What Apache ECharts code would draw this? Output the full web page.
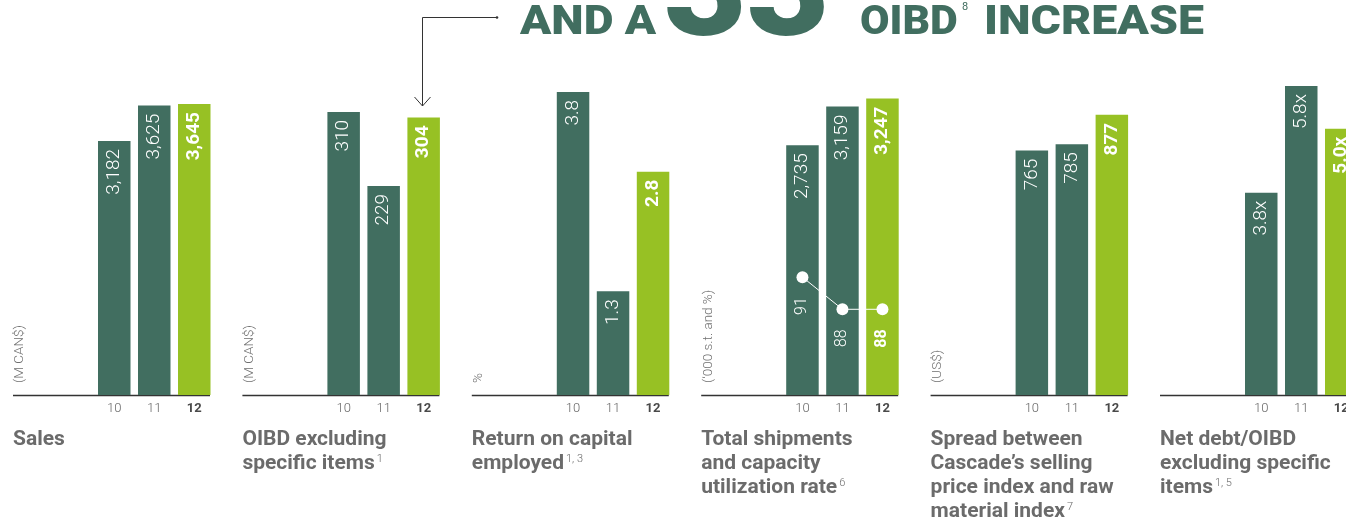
<!DOCTYPE html>
<html>
<head>
<meta charset="utf-8">
<script src="https://cdn.jsdelivr.net/npm/echarts@6/dist/echarts.min.js"></script>
<style>
  html, body { margin: 0; padding: 0; background: #ffffff; overflow: hidden; }
  /* the drawing surface runs a little past the visible window so the last panel can be cut at the edge */
  #chart { width: 1400px; height: 519px; }
</style>
</head>
<body>
<div id="chart"></div>
<script>
// Year labels shared by every panel
const years = ['10', '11', '12'];

// Key figures, one array per indicator
const sales = [3182, 3625, 3645];           // M CAN$
const oibd = [310, 229, 304];               // M CAN$
const roce = [3.8, 1.3, 2.8];               // %
const shipments = [2735, 3159, 3247];       // '000 s.t.
const utilization = [91, 88, 88];          // %
const spread = [765, 785, 877];             // US$
const netDebtRatio = [3.8, 5.8, 5.0];       // times

// Panel captions, units and footnote marks
const titles = [
  ['Sales'],
  ['OIBD excluding', 'specific items'],
  ['Return on capital', 'employed'],
  ['Total shipments', 'and capacity', 'utilization rate'],
  ['Spread between', 'Cascade\u2019s selling', 'price index and raw', 'material index'],
  ['Net debt/OIBD', 'excluding specific', 'items']
];
const notes = ['', '1', '1, 3', '6', '7', '1, 5'];
const units = ['(M CAN$)', '(M CAN$)', '%', '(\u2018000 s.t. and %)', '(US$)', ''];

const GREEN = '#416e60';
const LIME = '#97c124';
const FONT = 'Roboto, "Noto Sans", sans-serif';

const fmtInt = v => v.toLocaleString('en-US');
const fmtDec = v => v.toFixed(1);

// Series settings per panel (scale ceiling keeps bar heights comparable across the layout)
const panels = [
  { values: sales, fmt: fmtInt, max: 3946 },
  { values: oibd, fmt: fmtInt, max: 345 },
  { values: roce, fmt: fmtDec, max: 3.95 },
  { values: shipments, fmt: fmtInt, max: 3450, line: utilization },
  { values: spread, fmt: fmtInt, max: 986 },
  { values: netDebtRatio, fmt: v => v.toFixed(1) + 'x', max: 5.915 }
];

const PANEL_X0 = 13, PANEL_STEP = 229.4, BASE_Y = 395, PLOT_TOP = 80;

const grid = [], xAxis = [], yAxis = [], series = [], graphic = [];

panels.forEach((p, i) => {
  const px = PANEL_X0 + PANEL_STEP * i;
  grid.push({ left: px + 81.25, width: 120, top: PLOT_TOP, height: BASE_Y - PLOT_TOP });
  xAxis.push({
    type: 'category', gridIndex: i, data: years,
    axisLine: { show: false }, axisTick: { show: false }, splitLine: { show: false },
    axisLabel: {
      interval: 0, hideOverlap: false,
      margin: 7, fontFamily: FONT, fontSize: 13, fontWeight: 300, color: '#666',
      formatter: v => v === '12' ? '{b|' + v + '}' : v,
      rich: { b: { fontFamily: FONT, fontSize: 13, fontWeight: 'bold', color: '#4a4a4a' } }
    }
  });
  const barAxis = yAxis.length;
  yAxis.push({ type: 'value', gridIndex: i, min: 0, max: p.max, show: false });

  series.push({
    type: 'bar', xAxisIndex: i, yAxisIndex: barAxis, barWidth: 32.5,
    data: p.values.map((v, j) => ({
      value: v,
      itemStyle: { color: j === 2 ? LIME : GREEN },
      label: { fontWeight: j === 2 ? 'bold' : 300 }
    })),
    label: {
      show: true, position: 'insideTop', distance: 8, rotate: 90,
      align: 'right', verticalAlign: 'middle',
      color: '#ffffff', fontFamily: FONT, fontSize: 19,
      formatter: params => p.fmt(params.value)
    },
    emphasis: { disabled: true },
    animation: false
  });

  if (p.line) {
    const lineAxis = yAxis.length;
    yAxis.push({ type: 'value', gridIndex: i, min: 80, max: 109.4, show: false });
    series.push({
      type: 'line', xAxisIndex: i, yAxisIndex: lineAxis, z: 5,
      data: p.line.map((v, j) => ({ value: v, label: { fontWeight: j === 2 ? 'bold' : 300 } })),
      symbol: 'circle', symbolSize: 12,
      lineStyle: { color: '#ffffff', width: 1 },
      itemStyle: { color: '#ffffff' },
      label: {
        show: true, position: 'bottom', distance: 14, rotate: 90,
        align: 'right', verticalAlign: 'middle',
        color: '#ffffff', fontFamily: FONT, fontSize: 16
      },
      emphasis: { disabled: true },
      animation: false
    });
  }

  // baseline under the bars
  graphic.push({
    type: 'line', silent: true,
    shape: { x1: px, y1: BASE_Y + 0.5, x2: px + 197, y2: BASE_Y + 0.5 },
    style: { stroke: '#333333', lineWidth: 1.5 }
  });

  // unit caption, reading upwards
  if (units[i]) {
    graphic.push({
      type: 'text', silent: true, x: px + 7, y: 383, rotation: Math.PI / 2,
      style: {
        text: units[i], fontFamily: FONT, fontSize: 13.5, fontWeight: 300,
        fill: '#6f6f6f', align: 'left', verticalAlign: 'middle'
      }
    });
  }

  // panel caption with footnote mark
  const lines = titles[i].slice();
  if (notes[i]) lines[lines.length - 1] += '{s|' + notes[i] + '}';
  graphic.push({
    type: 'text', silent: true, x: px, y: 428,
    style: {
      text: lines.join('\n'), fontFamily: FONT, fontSize: 21, fontWeight: 'bold',
      fill: '#6b6b6b', lineHeight: 24, align: 'left', verticalAlign: 'top',
      rich: {
        s: { fontFamily: FONT, fontSize: 11, fontWeight: 300, fill: '#6b6b6b',
             verticalAlign: 'top', lineHeight: 14, padding: [2, 0, 0, 2] }
      }
    }
  });
});

// headline across the top
const headline = { fontFamily: FONT, fontWeight: 900, fill: GREEN, align: 'left', verticalAlign: 'middle' };
graphic.push(
  { type: 'text', silent: true, x: 520, y: 24, scaleX: 1.15,
    style: Object.assign({ text: 'AND A', fontSize: 40 }, headline) },
  { type: 'text', silent: true, x: 664, y: 0, scaleX: 1.02,
    style: Object.assign({ text: '33', fontSize: 140 }, headline) },
  { type: 'text', silent: true, x: 860, y: 24, scaleX: 1.07,
    style: Object.assign({ text: 'OIBD', fontSize: 40 }, headline) },
  { type: 'text', silent: true, x: 962, y: 7,
    style: Object.assign({}, headline, { text: '8', fontSize: 11, fontWeight: 400 }) },
  { type: 'text', silent: true, x: 984, y: 24, scaleX: 1.16,
    style: Object.assign({ text: 'INCREASE', fontSize: 40 }, headline) }
);

// pointer from the headline down to the latest OIBD bar
graphic.push(
  { type: 'polyline', silent: true, shape: { points: [[497, 17.5], [422.5, 17.5], [422.5, 106]] },
    style: { stroke: '#333333', lineWidth: 1, fill: null } },
  { type: 'polyline', silent: true, shape: { points: [[414.5, 97], [422.5, 106], [430.5, 97]] },
    style: { stroke: '#333333', lineWidth: 1, fill: null } },
  { type: 'circle', silent: true, shape: { cx: 497, cy: 17.5, r: 1.3 }, style: { fill: '#333333' } }
);

const chart = echarts.init(document.getElementById('chart'), null, { renderer: 'canvas' });
chart.setOption({
  backgroundColor: '#ffffff',
  animation: false,
  tooltip: { show: false },
  grid, xAxis, yAxis, series, graphic
});
</script>
</body>
</html>
